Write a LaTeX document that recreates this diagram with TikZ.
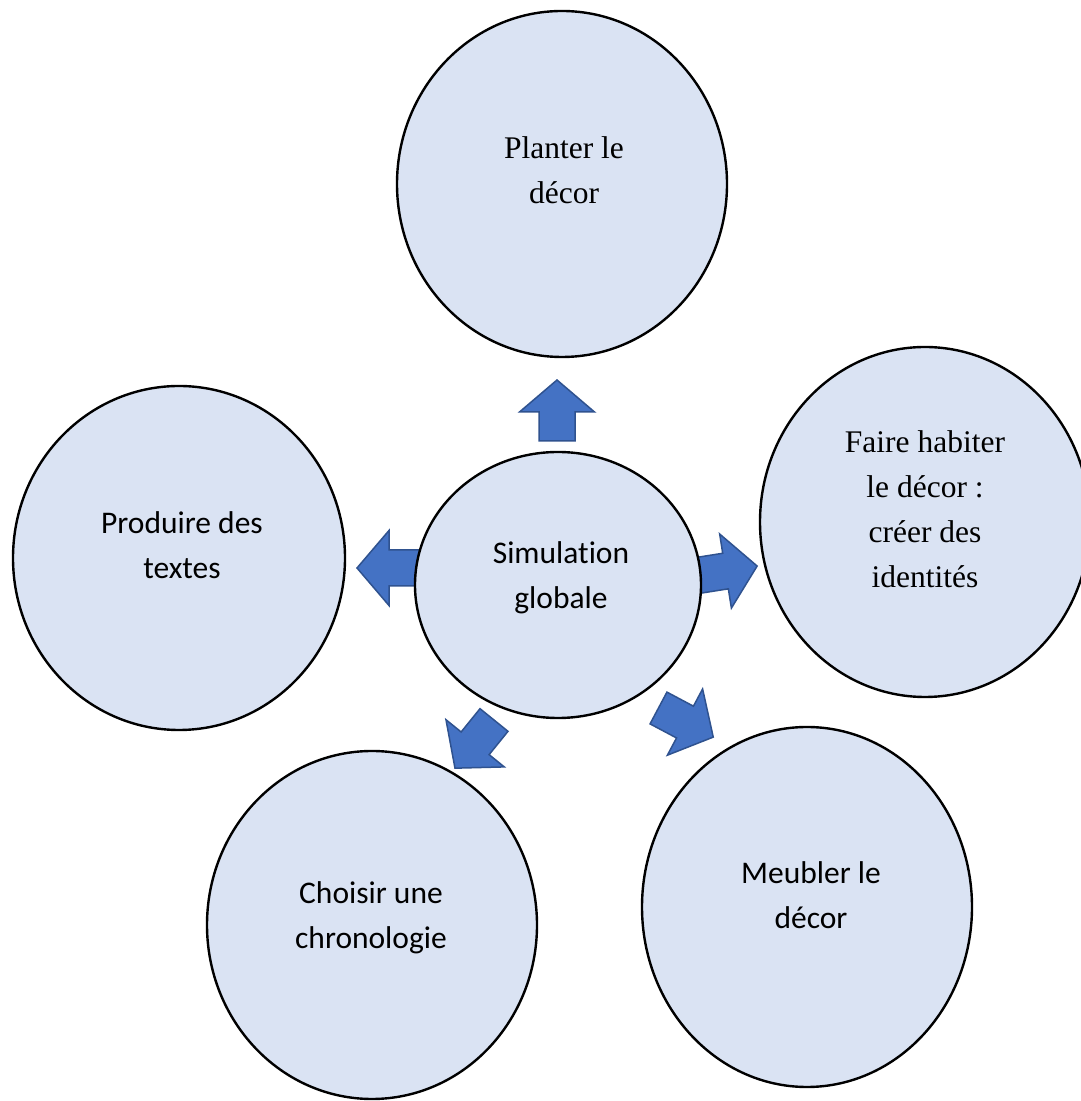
\documentclass[tikz,border=0pt]{standalone}
\usepackage{fontspec}
\setmainfont{Liberation Serif}
\newfontfamily\bubblesans[Ligatures=NoCommon]{Carlito}
\usetikzlibrary{shapes.geometric}
\definecolor{bubblefill}{HTML}{DAE3F3}
\definecolor{arrowfill}{HTML}{4472C4}
\definecolor{arrowline}{HTML}{2F528F}
\tikzset{
  bubble/.style={ellipse, draw=black, line width=2.4pt, fill=bubblefill, inner sep=0pt},
  serifcaption/.style={align=center, inner sep=0pt, font=\fontsize{31.5}{45}\selectfont},
  sanscaption/.style={align=center, inner sep=0pt, font=\bubblesans\fontsize{31.5}{45}\selectfont},
  arrowbody/.style={fill=arrowfill, draw=arrowline, line width=1.5pt, line join=miter},
  pics/blockarrow/.style={code={
    \path[arrowbody] (0,-18) -- ({#1-32},-18) -- ({#1-32},-37.5) -- (#1,0)
      -- ({#1-32},37.5) -- ({#1-32},18) -- (0,18) -- cycle;}}
}
\begin{document}
\begin{tikzpicture}[x=1pt,y=1pt]
\useasboundingbox (0,0) rectangle (1081,1101);
\clip (0,0) rectangle (1081,1101);

% outer bubbles
\node[bubble, minimum width=330pt, minimum height=346pt] (decor) at (562,917) {};
\node[bubble, minimum width=330pt, minimum height=350pt] (habiter) at (925,579) {};
\node[bubble, minimum width=332pt, minimum height=344pt] (textes) at (179,543) {};
\node[bubble, minimum width=330pt, minimum height=348pt] (chrono) at (372,176) {};
\node[bubble, minimum width=330pt, minimum height=360pt] (meubler) at (807,194) {};

% block arrows radiating from the centre
\pic[rotate=90] (aup) at (557,660) {blockarrow=61};
\pic[rotate=180] (aleft) at (430,533) {blockarrow=73};
\pic[rotate=9] (aright) at (688,524) {blockarrow=70};
\pic[rotate=-28] (adownright) at (658.5,393) {blockarrow=62};
\pic[rotate=-129] (adownleft) at (494,381) {blockarrow=62};

% central bubble
\node[bubble, minimum width=286pt, minimum height=266pt] (simul) at (558,516) {};

% captions
\node[serifcaption] (tdecor) at (564,928.5) {\strut Planter le\\\strut décor};
\node[serifcaption] (thabiter) at (925,590) {\strut Faire habiter\\\strut le décor :\\\strut créer des\\\strut identités};
\node[sanscaption] (ttextes) at (182,553.5) {\strut Produire des\\\strut textes};
\node[sanscaption] (tsimul) at (561,523.5) {\strut Simulation\\\strut globale};
\node[sanscaption] (tchrono) at (371,183.5) {\strut Choisir une\\\strut chronologie};
\node[sanscaption] (tmeubler) at (811,204) {\strut Meubler le\\\strut décor};
\end{tikzpicture}
\end{document}
